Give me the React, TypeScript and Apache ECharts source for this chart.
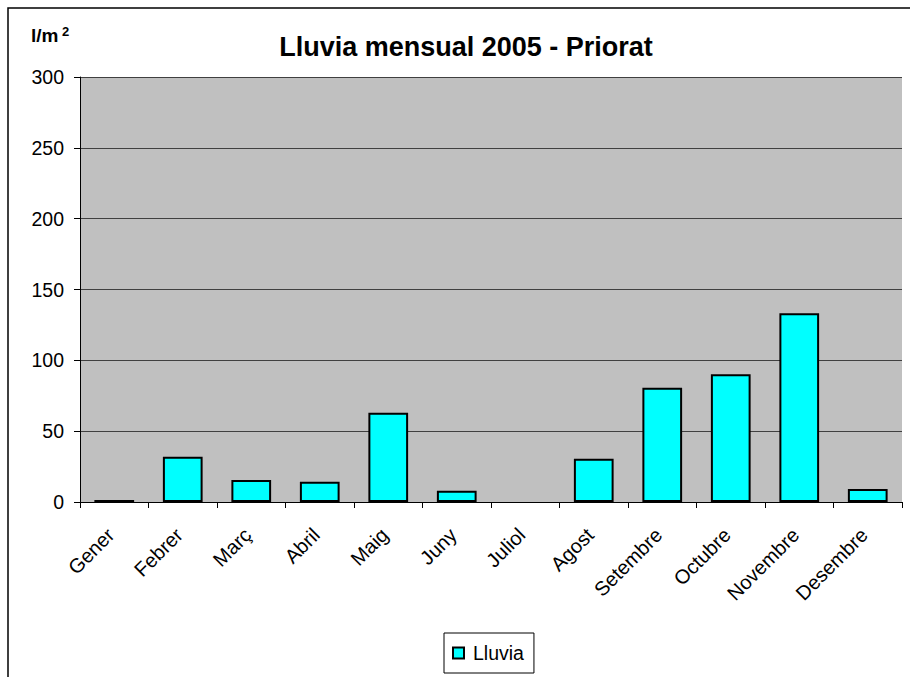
import React, { useEffect, useRef } from "react";
import * as echarts from "echarts";

const months = ["Gener", "Febrer", "Març", "Abril", "Maig", "Juny", "Juliol", "Agost", "Setembre", "Octubre", "Novembre", "Desembre"];
const rainfall = [1.5, 32, 15.5, 14.3, 63, 8, 0, 30.5, 80.7, 90.1, 133.3, 9.2];
const seriesName = "Lluvia";
const chartTitle = "Lluvia mensual 2005 - Priorat";
const unitBase = "l/m";
const unitExp = "2";

const FONT = "'Liberation Sans', Arial, sans-serif";

export default function App() {
  const ref = useRef<HTMLDivElement>(null);
  useEffect(() => {
    if (!ref.current) return;
    const chart = echarts.init(ref.current, undefined, { renderer: "svg" });
    const barData = rainfall.map((v) =>
      v === 0 ? { value: v, itemStyle: { borderWidth: 0 } } : v
    );
    chart.setOption({
      animation: false,
      backgroundColor: "#ffffff",
      graphic: [
        {
          type: "rect",
          shape: { x: 8, y: 8, width: 920, height: 690 },
          style: { fill: "none", stroke: "#000", lineWidth: 1.5 },
          silent: true,
        },
        {
          type: "text",
          x: 466,
          y: 47,
          style: {
            text: chartTitle,
            fontFamily: FONT,
            fontSize: 27,
            fontWeight: "bold",
            fill: "#000",
            textAlign: "center",
            textVerticalAlign: "middle",
          },
        },
        {
          type: "text",
          x: 31,
          y: 35,
          style: {
            text: unitBase,
            fontFamily: FONT,
            fontSize: 19,
            fontWeight: "bold",
            fill: "#000",
            textAlign: "left",
            textVerticalAlign: "middle",
          },
        },
        {
          type: "text",
          x: 62,
          y: 31.5,
          style: {
            text: unitExp,
            fontFamily: FONT,
            fontSize: 13,
            fontWeight: "bold",
            fill: "#000",
            textAlign: "left",
            textVerticalAlign: "middle",
          },
        },
      ],
      legend: {
        data: [seriesName],
        left: 444,
        top: 633,
        padding: [10, 10, 10, 8],
        borderColor: "#000",
        borderWidth: 1,
        itemWidth: 11,
        itemHeight: 11,
        itemGap: 5,
        icon: "rect",
        textStyle: { fontFamily: FONT, fontSize: 19.5, color: "#000", padding: [0, 0, 0, 4] },
      },
      grid: {
        left: 80,
        top: 77,
        right: 8,
        bottom: 175,
        show: true,
        backgroundColor: "#C0C0C0",
        borderWidth: 0,
      },
      xAxis: {
        type: "category",
        data: months,
        boundaryGap: true,
        axisLine: { lineStyle: { color: "#000", width: 1 } },
        axisTick: { show: true, alignWithLabel: false, length: 6, lineStyle: { color: "#000" } },
        axisLabel: {
          rotate: 45,
          interval: 0,
          fontFamily: FONT,
          fontSize: 20,
          color: "#000",
          margin: 26,
          padding: [0, 5, 6, 0],
        },
      },
      yAxis: {
        type: "value",
        min: 0,
        max: 300,
        interval: 50,
        axisLine: { show: true, lineStyle: { color: "#000", width: 1 } },
        axisTick: { show: true, length: 6, lineStyle: { color: "#000" } },
        splitLine: { show: true, lineStyle: { color: "#404040", width: 1 } },
        axisLabel: { fontFamily: FONT, fontSize: 19.5, color: "#000", margin: 16 },
      },
      series: [
        {
          name: seriesName,
          type: "bar",
          data: barData,
          barCategoryGap: "42%",
          itemStyle: { color: "#00FFFF", borderColor: "#000", borderWidth: 2 },
        },
      ],
    });
    return () => chart.dispose();
  }, []);
  return <div ref={ref} style={{ width: 910, height: 677, position: "absolute", left: 0, top: 0 }} />;
}
